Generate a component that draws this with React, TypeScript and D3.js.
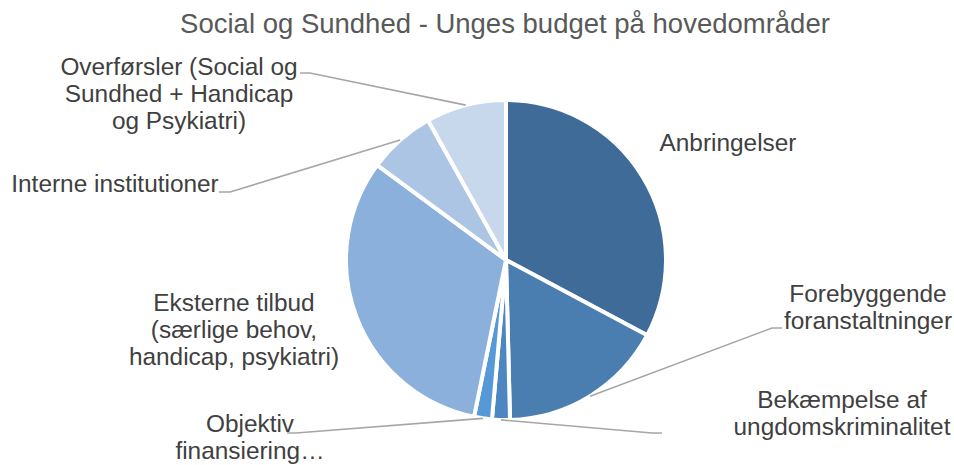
import React from "react";
import * as d3 from "d3";

const categories = [
  "Anbringelser",
  "Forebyggende foranstaltninger",
  "Bekæmpelse af ungdomskriminalitet",
  "Objektiv finansiering…",
  "Eksterne tilbud (særlige behov, handicap, psykiatri)",
  "Interne institutioner",
  "Overførsler (Social og Sundhed + Handicap og Psykiatri)",
];
const values = [32.8, 16.8, 1.8, 1.8, 31.9, 6.8, 8.1];
const colors = ["#3E6B97", "#4A7EB1", "#4C87C1", "#5699D6", "#8BB0DC", "#ACC5E5", "#C7D7EC"];
const title = "Social og Sundhed - Unges budget på hovedområder";

// label layout: lines, anchor x, first baseline y, leader elbow (x,y) and end x
const labelLines = [
  ["Anbringelser"],
  ["Forebyggende", "foranstaltninger"],
  ["Bekæmpelse af", "ungdomskriminalitet"],
  ["Objektiv", "finansiering…"],
  ["Eksterne tilbud", "(særlige behov,", "handicap, psykiatri)"],
  ["Interne institutioner"],
  ["Overførsler (Social og", "Sundhed + Handicap", "og Psykiatri)"],
];
const labelPos: [number, number][] = [
  [728, 151],
  [868, 302],
  [842, 408],
  [250, 432],
  [234, 311],
  [115, 192],
  [179, 75],
];
const leaders: ([number, number, number] | null)[] = [
  null,
  [772, 328, 782],
  [652, 433, 662],
  [296, 433, 287],
  null,
  [230, 192, 219],
  [310, 73, 300],
];

const W = 954;
const H = 465;
const cx = 506;
const cy = 260;
const R = 160;
const FONT = "'Liberation Sans', Arial, Helvetica, sans-serif";

export default function App() {
  const pie = d3.pie<number>().sort(null).value((d) => d)(values);
  const arc = d3.arc<d3.PieArcDatum<number>>().innerRadius(0).outerRadius(R);
  const lineH = 27;
  return (
    <svg
      width={W}
      height={H}
      style={{ position: "absolute", left: 0, top: 0, background: "#fff" }}
      fontFamily={FONT}
    >
      <text x={505} y={33} textAnchor="middle" fontSize={27.5} fill="#595959">
        {title}
      </text>
      <g transform={`translate(${cx},${cy})`}>
        {pie.map((p, i) => (
          <path key={i} d={arc(p) || ""} fill={colors[i]} stroke="#fff" strokeWidth={4} strokeLinejoin="round" />
        ))}
      </g>
      {pie.map((p, i) => {
        const L = leaders[i];
        if (!L) return null;
        const a = (p.startAngle + p.endAngle) / 2;
        const sx = cx + R * Math.sin(a);
        const sy = cy - R * Math.cos(a);
        return (
          <polyline
            key={"l" + i}
            points={`${sx},${sy} ${L[0]},${L[1]} ${L[2]},${L[1]}`}
            fill="none"
            stroke="#A6A6A6"
            strokeWidth={1.6}
          />
        );
      })}
      {labelLines.map((lines, i) => (
        <text
          key={"t" + i}
          x={labelPos[i][0]}
          y={labelPos[i][1]}
          textAnchor="middle"
          fontSize={24.4}
          fill="#404040"
        >
          {lines.map((s, j) => (
            <tspan key={j} x={labelPos[i][0]} dy={j === 0 ? 0 : lineH}>
              {s}
            </tspan>
          ))}
        </text>
      ))}
    </svg>
  );
}
